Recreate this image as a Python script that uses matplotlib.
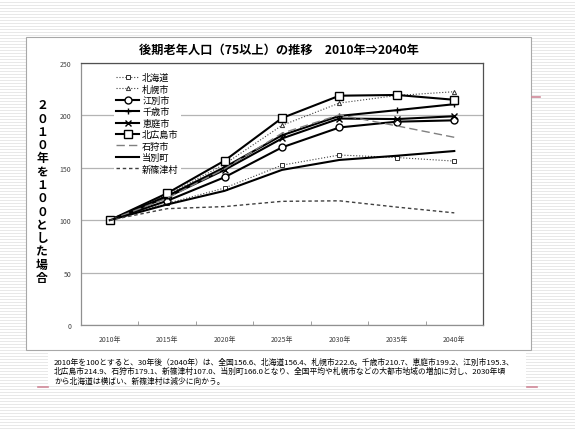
import matplotlib
matplotlib.use("Agg")
import matplotlib.pyplot as plt
from matplotlib.patches import Rectangle

plt.rcParams['font.family'] = ['Noto Sans CJK JP', 'DejaVu Sans']

years = ['2010年', '2015年', '2020年', '2025年', '2030年', '2035年', '2040年']
hokkaido = [100, 116, 130.7, 152.5, 162.2, 159.8, 156.4]
sapporo = [100, 124, 153.5, 190.5, 211.8, 219.0, 222.6]
ebetsu = [100, 118.5, 141, 169.5, 188.5, 194.0, 195.3]
chitose = [100, 123, 150.5, 181, 199.5, 205.0, 210.7]
eniwa = [100, 122, 148, 178, 197, 196.5, 199.2]
kitahiroshima = [100, 125.7, 156.8, 197.5, 218.8, 219.5, 214.9]
ishikari = [100, 121, 149, 183, 200.5, 190.0, 179.1]
tobetsu = [100, 115, 128, 148, 157.5, 161.5, 166.0]
shinshinotsu = [100, 111, 113, 118, 118.5, 112.5, 107.0]

title = '後期老年人口（75以上）の推移　2010年⇒2040年'
ylabel = '２０１０年を１００とした場合'
note = ('2010年を100とすると、30年後（2040年）は、全国156.6、北海道156.4、札幌市222.6。千歳市210.7、恵庭市199.2、江別市195.3、\n'
        '北広島市214.9、石狩市179.1、新篠津村107.0、当別町166.0となり、全国平均や札幌市などの大都市地域の増加に対し、2030年頃\n'
        'から北海道は横ばい、新篠津村は減少に向かう。')

W, H = 575, 431
fig = plt.figure(figsize=(W / 100, H / 100), dpi=100)

# slide background (pixel coordinates)
bg = fig.add_axes([0, 0, 1, 1])
bg.set_xlim(0, W)
bg.set_ylim(H, 0)
bg.axis('off')
for y in range(0, H, 3):
    bg.axhline(y, color='#e8e8e8', lw=0.7, zorder=0)
bg.add_patch(Rectangle((26, 38), 505, 313, facecolor='white', edgecolor='#a8a8a8', lw=0.8, zorder=1))
bg.add_patch(Rectangle((48, 353), 478, 34, facecolor='white', edgecolor='none', zorder=1))
for x0, x1, y in [(532, 540, 98), (38, 48, 388), (527, 537, 388)]:
    bg.plot([x0, x1], [y, y], color='#d08898', lw=1.2, zorder=2)
bg.text(279, 50, title, ha='center', va='center', fontsize=8.8, fontweight='bold', zorder=3)
bg.text(42, 192, '\n'.join(ylabel), ha='center', va='center', fontsize=8.5,
        fontweight='bold', linespacing=1.03, zorder=3)
bg.text(54, 372, note, ha='left', va='center', fontsize=5.6, linespacing=1.25, zorder=3)

# chart
ax = fig.add_axes([81 / W, (H - 326) / H, (483 - 81) / W, (326 - 64) / H])
ax.set_facecolor('white')
x = range(len(years))

ax.plot(x, hokkaido, color='#404040', lw=0.8, ls=':', marker='s', ms=3.5, mfc='white', mec='#303030', mew=0.7, label='北海道')
ax.plot(x, sapporo, color='#404040', lw=0.8, ls=':', marker='^', ms=3, mfc='white', mec='#303030', mew=0.7, label='札幌市')
ax.plot(x, ebetsu, color='black', lw=1.5, marker='o', ms=5, mfc='white', mec='black', mew=1.0, label='江別市')
ax.plot(x, chitose, color='black', lw=1.5, marker='+', ms=5, mec='black', mew=1.0, label='千歳市')
ax.plot(x, eniwa, color='black', lw=1.5, marker='x', ms=4, mec='black', mew=1.0, label='恵庭市')
ax.plot(x, kitahiroshima, color='black', lw=1.5, marker='s', ms=5.5, mfc='white', mec='black', mew=1.0, label='北広島市')
ax.plot(x, ishikari, color='#808080', lw=1.0, ls=(0, (6, 3)), label='石狩市')
ax.plot(x, tobetsu, color='black', lw=1.5, label='当別町')
ax.plot(x, shinshinotsu, color='#404040', lw=1.0, ls=(0, (2.5, 2)), label='新篠津村')

ax.set_xlim(-0.5, len(years) - 0.5)
ax.set_ylim(0, 250)
ax.set_yticks(range(0, 251, 50))
ax.set_xticks(list(x))
ax.set_xticklabels(years)
ax.set_xticks([i + 0.5 for i in range(len(years) - 1)], minor=True)
ax.tick_params(axis='x', which='major', length=0, labelsize=5, colors='#404040', pad=7)
ax.tick_params(axis='x', which='minor', length=3, direction='in', color='#909090')
ax.tick_params(axis='y', length=0, labelsize=5, colors='#404040', pad=7)
ax.grid(axis='y', color='#b4b4b4', lw=0.9)
ax.set_axisbelow(True)
for side in ['top', 'right']:
    ax.spines[side].set_color('#505050')
for side in ['left', 'bottom']:
    ax.spines[side].set_color('#909090')
for s in ax.spines.values():
    s.set_linewidth(0.9)

leg = ax.legend(loc='upper left', bbox_to_anchor=(0.07, 0.99), fontsize=6.6, frameon=True,
                facecolor='white', edgecolor='none', framealpha=1, handlelength=2.5,
                labelspacing=0.26, borderpad=0.3, handletextpad=0.3)

fig.savefig('out.png', dpi=100)
